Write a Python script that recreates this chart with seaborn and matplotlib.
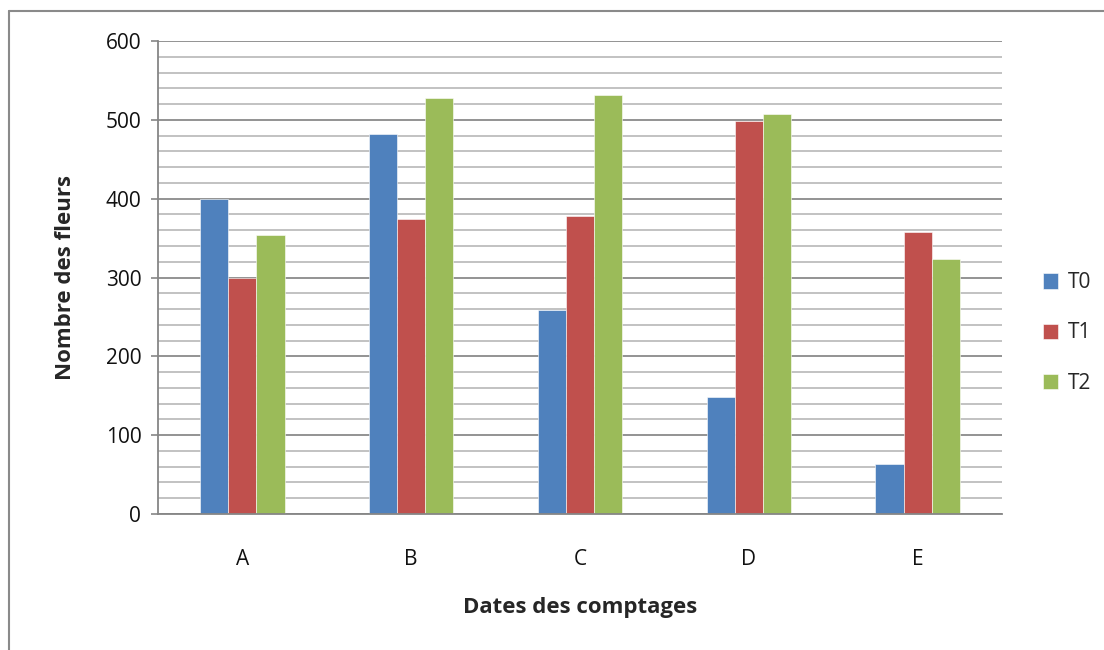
import matplotlib
matplotlib.use("Agg")
import matplotlib.pyplot as plt
from matplotlib.lines import Line2D
from matplotlib.ticker import MultipleLocator
import pandas as pd
import seaborn as sns

# Flower counts per counting date and treatment
dates = ["A", "B", "C", "D", "E"]
series = ["T0", "T1", "T2"]
t0 = [400, 482, 259, 149, 64]
t1 = [300, 374, 378, 499, 358]
t2 = [354, 528, 531, 507, 324]
colors = ["#4F81BD", "#C0504D", "#9BBB59"]

df = pd.DataFrame({
    "date": dates * 3,
    "serie": [s for s in series for _ in dates],
    "valeur": t0 + t1 + t2,
})

sns.set_theme(style="white")
plt.rcParams["font.family"] = ["Open Sans", "DejaVu Sans"]

W, H = 1104, 650
fig = plt.figure(figsize=(W / 100, H / 100), dpi=100)
ax = fig.add_axes([158 / W, 1 - 514 / H, (1002 - 158) / W, (514 - 41) / H])

sns.barplot(data=df, x="date", y="valeur", hue="serie", order=dates,
            hue_order=series, palette=colors, width=0.5, ax=ax,
            edgecolor="white", linewidth=0.4, saturation=1, legend=True,
            errorbar=None)

ax.set_ylim(0, 600)
ax.set_xlim(-0.5, len(dates) - 0.5)
ax.yaxis.set_major_locator(MultipleLocator(100))
ax.yaxis.set_minor_locator(MultipleLocator(20))
ax.grid(which="minor", axis="y", color="#bdbdbd", linewidth=1.3)
ax.grid(which="major", axis="y", color="#8a8a8a", linewidth=1.3)
ax.set_axisbelow(True)

for side in ("top", "right"):
    ax.spines[side].set_visible(False)
for side in ("left", "bottom"):
    ax.spines[side].set_color("#868686")
    ax.spines[side].set_linewidth(1.3)

ax.tick_params(axis="y", which="major", length=5, width=1.2, color="#868686",
               labelsize=15, pad=7, left=True, labelcolor="#111111")
ax.tick_params(axis="y", which="minor", length=0)
ax.tick_params(axis="x", length=0, labelsize=15, pad=25, labelcolor="#111111")

ax.set_xlabel("Dates des comptages", fontsize=16, fontweight="bold", labelpad=20)
ax.set_ylabel("Nombre des fleurs", fontsize=16, fontweight="bold", labelpad=21)

leg = ax.legend(loc="center left", bbox_to_anchor=(1024 / W, 1 - 333 / H),
                bbox_transform=fig.transFigure, frameon=False, fontsize=15,
                handlelength=0.75, handleheight=0.75, handletextpad=0.45,
                labelspacing=1.4)

# Chart area frame (left and top edges)
fig.add_artist(Line2D([9 / W, 9 / W], [0, 1 - 11 / H], transform=fig.transFigure,
                      color="#8a8a8a", linewidth=1.5))
fig.add_artist(Line2D([9 / W, 1], [1 - 11 / H, 1 - 11 / H], transform=fig.transFigure,
                      color="#8a8a8a", linewidth=1.5))

fig.savefig("out.png", dpi=100, facecolor="white")
